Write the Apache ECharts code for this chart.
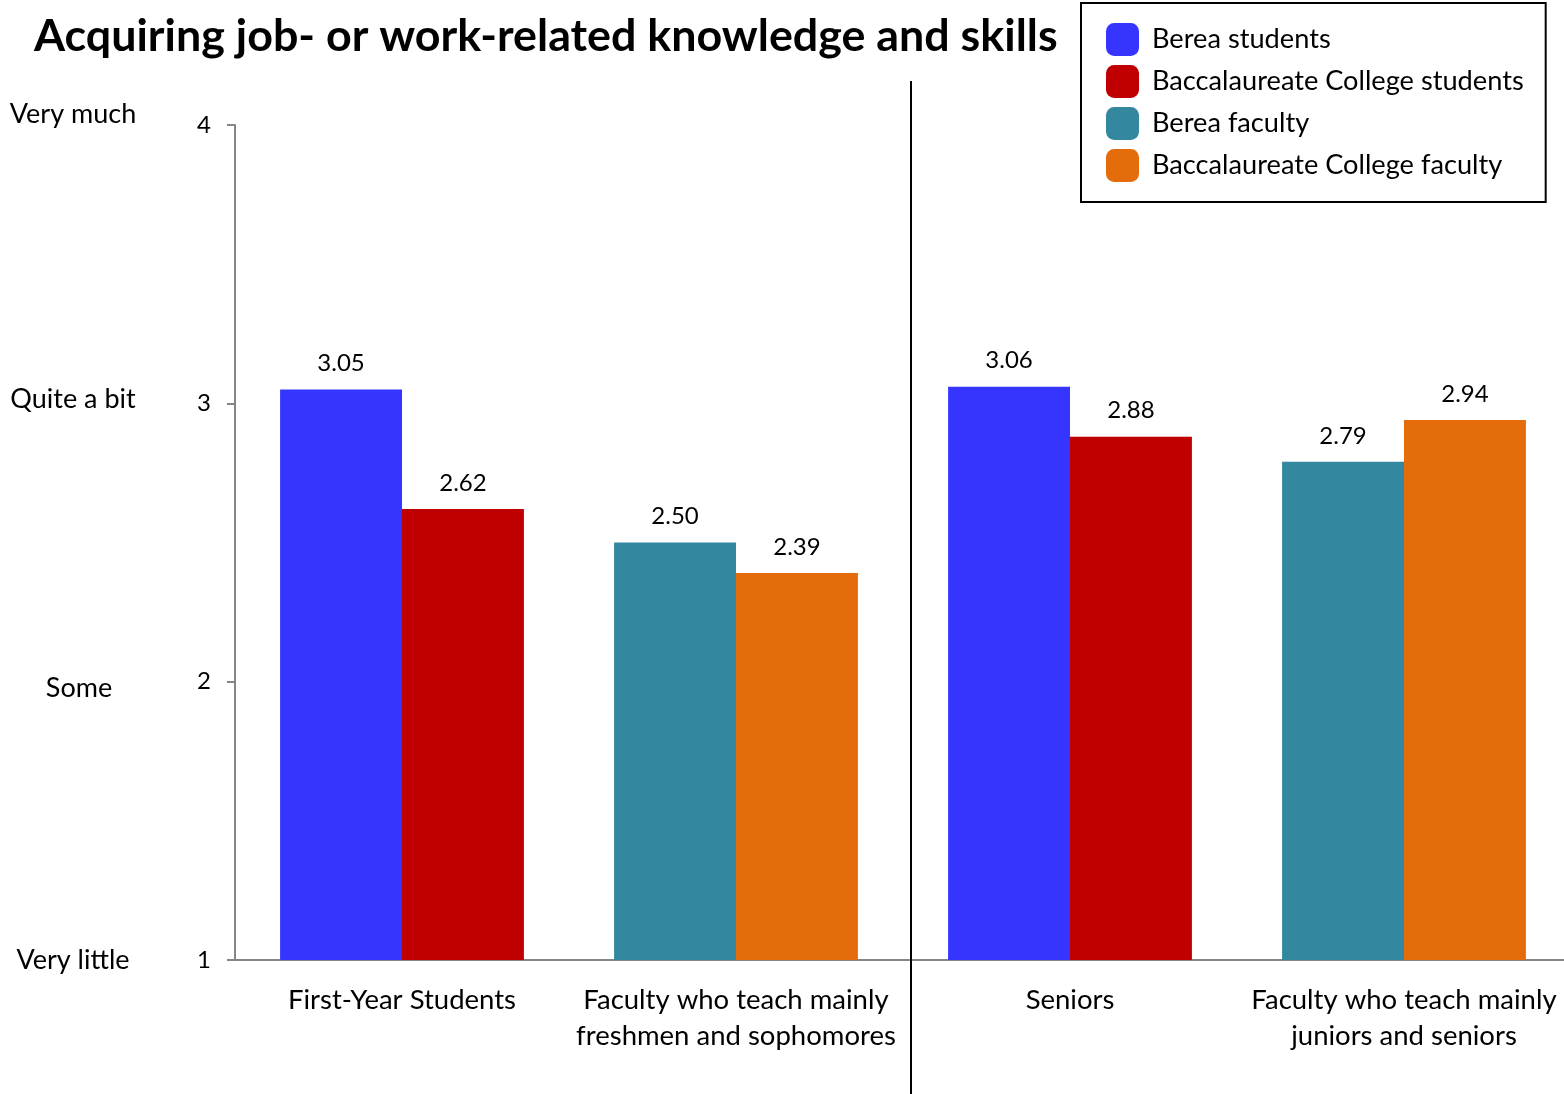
<!DOCTYPE html>
<html>
<head>
<meta charset="utf-8">
<script src="https://cdn.jsdelivr.net/npm/echarts@6/dist/echarts.min.js"></script>
<style>
html,body{margin:0;padding:0;background:#fff;overflow:hidden;}
#chart{width:1571px;height:1094px;}
</style>
</head>
<body>
<div id="chart"></div>
<script>
const titleText = 'Acquiring job- or work-related knowledge and skills';
const categories = ['First-Year Students', 'Faculty who teach mainly\nfreshmen and sophomores', 'Seniors', 'Faculty who teach mainly\njuniors and seniors'];
const seriesNames = ['Berea students', 'Baccalaureate College students', 'Berea faculty', 'Baccalaureate College faculty'];
const bereaStudents = [3.05, null, 3.06, null];
const baccStudents = [2.62, null, 2.88, null];
const bereaFaculty = [null, 2.50, null, 2.79];
const baccFaculty = [null, 2.39, null, 2.94];
const tickValues = [1, 2, 3, 4];
const scaleLabels = {1: 'Very little', 2: 'Some', 3: 'Quite a bit', 4: 'Very much'};
const colors = ['#3535FF', '#C00000', '#33879E', '#E46C0A'];

const FONT = 'Lato';
const chart = echarts.init(document.getElementById('chart'));

function barSeries(name, data, stack, color) {
  return {
    name: name, type: 'bar', stack: stack, data: data, clip: true,
    itemStyle: {color: color},
    barGap: '0%', barCategoryGap: '27%',
    label: {show: true, position: 'top', distance: 14, color: '#000', fontSize: 24, fontFamily: FONT,
      formatter: p => (p.value == null ? '' : Number(p.value).toFixed(2))}
  };
}

const scaleRich = {
  l4: {fontFamily: FONT, fontSize: 27, color: '#000', padding: [0, 0, 22, 0]},
  l3: {fontFamily: FONT, fontSize: 27, color: '#000', padding: [0, 0, 8, 0]},
  l2: {fontFamily: FONT, fontSize: 27, color: '#000', padding: [14, 0, 0, 12]},
  l1: {fontFamily: FONT, fontSize: 27, color: '#000', padding: [0, 0, 0, 0]}
};

chart.setOption({
  animation: false,
  backgroundColor: '#fff',
  title: {text: titleText, left: 29, top: 9,
    textStyle: {fontFamily: FONT, fontWeight: 'bold', fontSize: 44.8, color: '#000'}},
  legend: {
    left: 1081, top: 3, orient: 'vertical',
    data: seriesNames,
    icon: 'roundRect', itemWidth: 33, itemHeight: 33, itemGap: 9,
    padding: [20, 22, 20, 25],
    borderColor: '#000', borderWidth: 2,
    textStyle: {fontFamily: FONT, fontSize: 27.2, color: '#000', padding: [0, 0, 0, 8]}
  },
  grid: {left: 235, right: 0, top: 125, bottom: 134, containLabel: false},
  xAxis: {
    type: 'category', data: categories,
    axisLine: {lineStyle: {color: '#868686', width: 2}},
    axisTick: {show: false},
    axisLabel: {fontFamily: FONT, fontSize: 27.5, color: '#000', lineHeight: 36, margin: 22, interval: 0}
  },
  yAxis: [{
    type: 'value', min: 1, max: 4, interval: 1,
    axisLine: {show: true, lineStyle: {color: '#868686', width: 2}},
    axisTick: {show: true, length: 8, lineStyle: {color: '#868686', width: 2}},
    splitLine: {show: false},
    axisLabel: {fontFamily: FONT, fontSize: 24, color: '#000', margin: 24}
  }, {
    type: 'value', min: 1, max: 4, interval: 1, position: 'left',
    axisLine: {show: false}, axisTick: {show: false}, splitLine: {show: false},
    axisLabel: {margin: 162, align: 'center', rich: scaleRich,
      formatter: v => scaleLabels[v] ? '{l' + v + '|' + scaleLabels[v] + '}' : ''}
  }],
  graphic: [{
    type: 'line', shape: {x1: 911, y1: 81, x2: 911, y2: 1094},
    style: {stroke: '#000', lineWidth: 2}, z: 10
  }],
  series: [
    barSeries(seriesNames[0], bereaStudents, 'left', colors[0]),
    barSeries(seriesNames[1], baccStudents, 'right', colors[1]),
    barSeries(seriesNames[2], bereaFaculty, 'left', colors[2]),
    barSeries(seriesNames[3], baccFaculty, 'right', colors[3])
  ]
});
</script>
</body>
</html>
